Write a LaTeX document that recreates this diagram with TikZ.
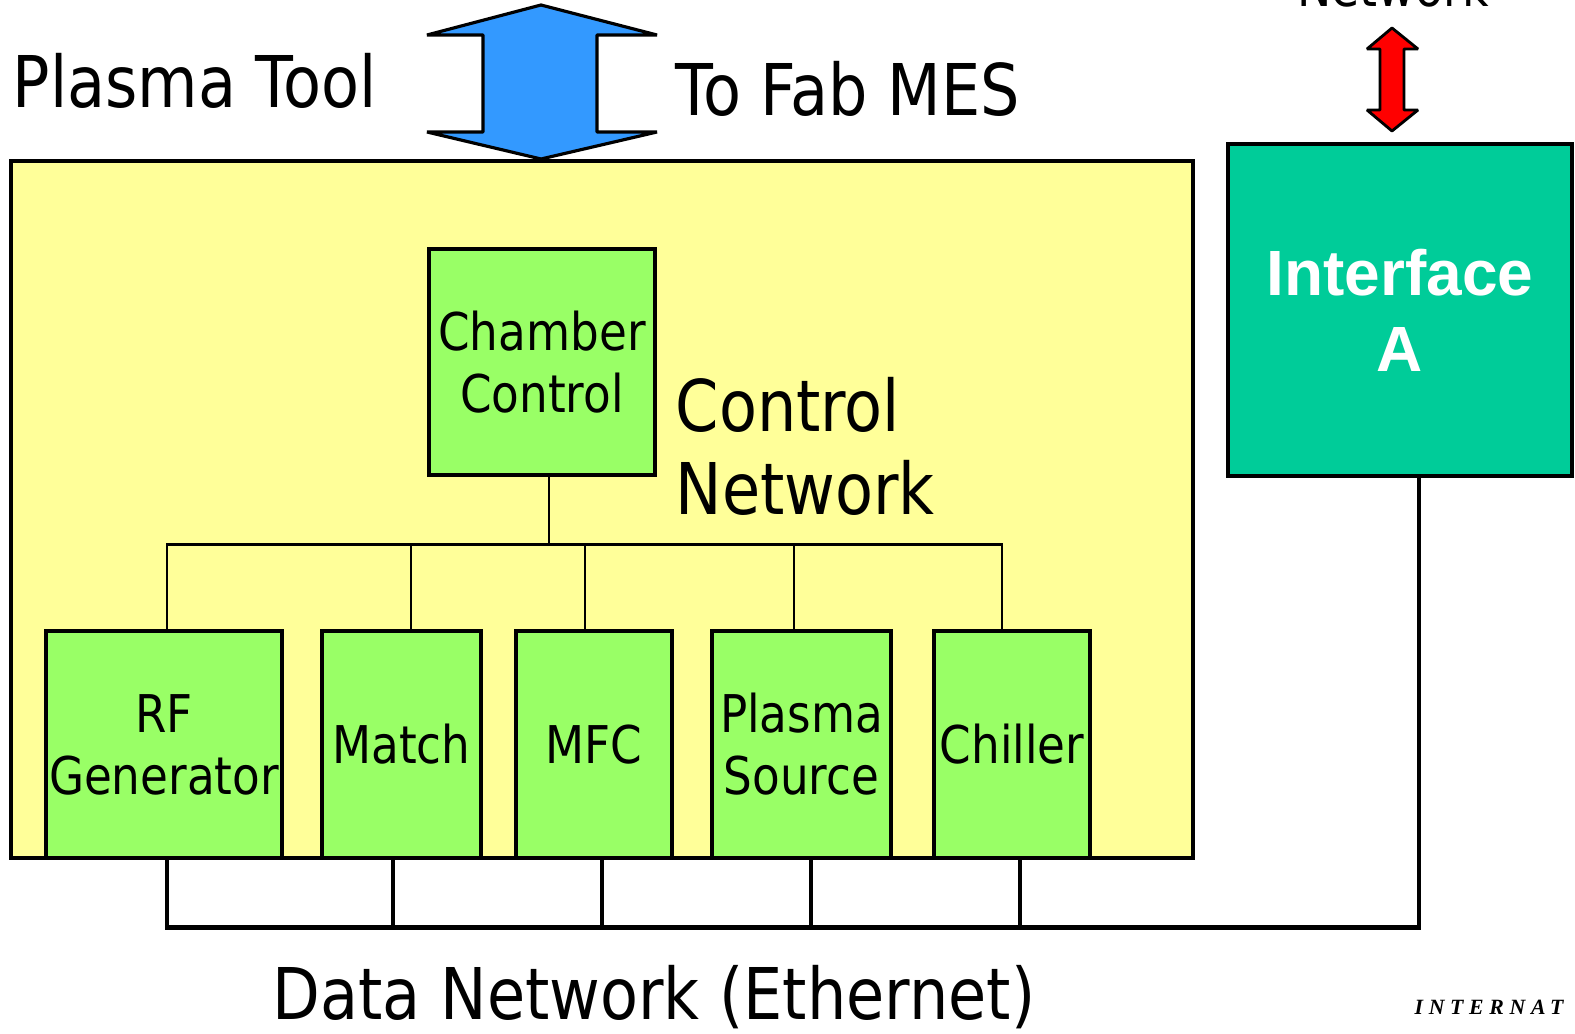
\documentclass[tikz,border=0pt]{standalone}
\usepackage{fontspec}
\setmainfont{DejaVu Sans}[FakeStretch=0.87]
\newfontfamily\ifacefont{Liberation Sans}
\newfontfamily\logofont{Liberation Serif}[LetterSpace=26]
\usetikzlibrary{shapes,arrows}

\definecolor{toolyellow}{HTML}{FFFF99}
\definecolor{unitgreen}{HTML}{99FF66}
\definecolor{ifaceteal}{HTML}{00CC99}
\definecolor{mesblue}{HTML}{3399FF}

\begin{document}
\begin{tikzpicture}[
    unit/.style={rectangle, draw, line width=0.9pt, fill=unitgreen,
                 inner sep=0pt, align=center, minimum height=2.27cm,
                 font=\fontsize{14.8}{17.6}\selectfont},
    bigtext/.style={inner sep=0pt, font=\fontsize{20.3}{23.6}\selectfont},
    wire/.style={line width=0.7pt},
    bus/.style={line width=1.2pt, line cap=rect}]

      \clip (0,0) rectangle (15.75,-10.34);

      % tool frame
      \node[rectangle,
            draw,
            line width = 0.9pt,
            fill = toolyellow,
            minimum width = 11.82cm,
            minimum height = 6.97cm] (tool) at (6.02,-5.095) {};

      \node[unit,
            minimum width = 2.26cm,
            minimum height = 2.26cm] (chamber) at (5.42,-3.62) {Chamber\\Control};

      \node[unit, minimum width = 2.36cm] (rf) at (1.64,-7.445) {RF\\Generator};
      \node[unit, minimum width = 1.59cm] (match) at (4.015,-7.445) {Match};
      \node[unit, minimum width = 1.56cm] (mfc) at (5.94,-7.445) {MFC};
      \node[unit, minimum width = 1.79cm] (plasma) at (8.015,-7.445) {Plasma\\Source};
      \node[unit, minimum width = 1.56cm] (chiller) at (10.12,-7.445) {Chiller};

      \node[rectangle,
            draw,
            line width = 0.9pt,
            fill = ifaceteal,
            text = white,
            align = center,
            inner sep = 0pt,
            minimum width = 3.44cm,
            minimum height = 3.32cm,
            font = \ifacefont\bfseries\fontsize{18.2}{21.6}\selectfont] (iface) at (14.0,-3.10) {Interface\\A};

      % texts
      \node[bigtext, anchor=base west] (tooltxt) at (0.12,-1.075) {Plasma Tool};
      \node[bigtext, anchor=base west] (mestxt) at (6.75,-1.155) {To Fab MES};
      \node[bigtext, anchor=west, align=left] (ctrltxt) at (6.75,-4.465) {Control\\Network};
      \node[bigtext, anchor=base] (datatxt) at (6.54,-10.20) {Data Network (Ethernet)};
      \node[inner sep=0pt, anchor=base, font=\fontsize{15}{18}\selectfont] (nettxt) at (13.93,-0.07) {Network};
      \node[inner sep=0pt, anchor=base west, font=\logofont\bfseries\itshape\fontsize{6.2}{7}\selectfont] (logotxt) at (14.14,-10.15) {INTERNAT};

      % fab MES arrow
      \draw[line width=0.9pt, line join=bevel, fill=mesblue]
        (5.41,-0.05) -- (6.57,-0.35) -- (5.97,-0.35) -- (5.97,-1.32) -- (6.57,-1.32)
        -- (5.41,-1.59) -- (4.27,-1.32) -- (4.83,-1.32) -- (4.83,-0.35) -- (4.27,-0.35) -- cycle;

      % outer network arrow
      \draw[line width=0.8pt, line join=bevel, fill=red]
        (13.92,-0.28) -- (14.18,-0.49) -- (14.04,-0.49) -- (14.04,-1.10) -- (14.18,-1.10)
        -- (13.92,-1.31) -- (13.67,-1.10) -- (13.80,-1.10) -- (13.80,-0.49) -- (13.67,-0.49) -- cycle;

      % control network
      \draw[wire] ([xshift=0.07cm]chamber.south) -- ++(0,-0.68) coordinate (cbus);
      \draw[wire] (cbus) -| ([xshift=0.03cm]rf.north);
      \draw[wire] (cbus) -| ([xshift=0.095cm]match.north);
      \draw[wire] (cbus) -| ([xshift=-0.09cm]mfc.north);
      \draw[wire] (cbus) -| ([xshift=-0.075cm]plasma.north);
      \draw[wire] (cbus) -| ([xshift=-0.10cm]chiller.north);

      % data network
      \draw[bus] ([xshift=0.03cm]rf.south) -- ++(0,-0.68) coordinate (dbus);
      \draw[bus] (dbus) -| ([xshift=0.19cm]iface.south);
      \draw[bus] ([xshift=-0.085cm]match.south) |- (dbus);
      \draw[bus] ([xshift=0.08cm]mfc.south) |- (dbus);
      \draw[bus] ([xshift=0.095cm]plasma.south) |- (dbus);
      \draw[bus] ([xshift=0.08cm]chiller.south) |- (dbus);

\end{tikzpicture}
\end{document}
